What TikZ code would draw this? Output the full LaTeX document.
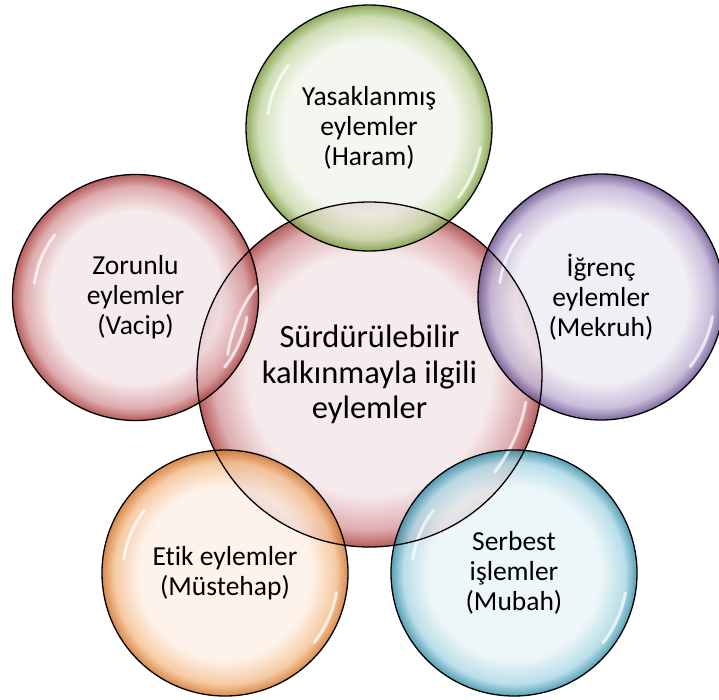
\documentclass[tikz,border=0pt]{standalone}
\usepackage{fontspec}
\setmainfont[Ligatures=NoCommon]{Carlito}
\pgfdeclareradialshading{bubred}{\pgfpoint{0bp}{0bp}}{rgb(0bp)=(0.961,0.906,0.914); rgb(17.5bp)=(0.961,0.906,0.914); rgb(22.5bp)=(0.85,0.62,0.63); rgb(25bp)=(0.66,0.25,0.25); rgb(50bp)=(0.66,0.25,0.25)}
\pgfdeclareradialshading{bubgreen}{\pgfpoint{0bp}{0bp}}{rgb(0bp)=(0.949,0.965,0.925); rgb(17.5bp)=(0.949,0.965,0.925); rgb(22.5bp)=(0.78,0.85,0.66); rgb(25bp)=(0.48,0.61,0.26); rgb(50bp)=(0.48,0.61,0.26)}
\pgfdeclareradialshading{bubpurple}{\pgfpoint{0bp}{0bp}}{rgb(0bp)=(0.937,0.925,0.957); rgb(17.5bp)=(0.937,0.925,0.957); rgb(22.5bp)=(0.75,0.70,0.83); rgb(25bp)=(0.42,0.32,0.56); rgb(50bp)=(0.42,0.32,0.56)}
\pgfdeclareradialshading{buborange}{\pgfpoint{0bp}{0bp}}{rgb(0bp)=(0.992,0.945,0.906); rgb(17.5bp)=(0.992,0.945,0.906); rgb(22.5bp)=(0.96,0.76,0.58); rgb(25bp)=(0.82,0.46,0.18); rgb(50bp)=(0.82,0.46,0.18)}
\pgfdeclareradialshading{bubblue}{\pgfpoint{0bp}{0bp}}{rgb(0bp)=(0.918,0.957,0.969); rgb(17.5bp)=(0.918,0.957,0.969); rgb(22.5bp)=(0.68,0.85,0.90); rgb(25bp)=(0.22,0.56,0.66); rgb(50bp)=(0.22,0.56,0.66)}
\tikzset{
  bubble/.style={circle, draw=none, inner sep=0pt, align=center, fill opacity=0.85, text opacity=1,
    font=\fontsize{27.5}{30}\selectfont, minimum size=246pt},
  hubbubble/.style={bubble, minimum size=345pt, font=\fontsize{32.5}{35.5}\selectfont},
  rim/.style={draw=black, line width=1.3pt},
  hl/.style={white, line width=3pt, line cap=round, opacity=0.7}
}
\newcommand\bubhl[2]{%
  \draw[hl] ([shift={(142:0.83*#2)}]#1.center) arc[start angle=142,end angle=172,radius=0.83*#2];
  \draw[hl] ([shift={(-10:0.92*#2)}]#1.center) arc[start angle=-10,end angle=-38,radius=0.92*#2];
}
\begin{document}
\begin{tikzpicture}[x=1pt,y=1pt]
\useasboundingbox (0,0) rectangle (719,-700);
\node[hubbubble, shading=bubred] (hub) at (369.5,-374.5) {Sürdürülebilir\\kalkınmayla ilgili\\eylemler};
\node[bubble, shading=bubgreen] (haram) at (369,-128) {Yasaklanmış\\eylemler\\(Haram)};
\node[bubble, shading=bubred] (vacip) at (135.5,-297.5) {Zorunlu\\eylemler\\(Vacip)};
\node[bubble, shading=bubpurple] (mekruh) at (601,-297) {İğrenç\\eylemler\\(Mekruh)};
\node[bubble, shading=buborange] (mustehap) at (225,-573) {Etik eylemler\\(Müstehap)};
\node[bubble, shading=bubblue] (mubah) at (514,-573) {Serbest\\işlemler\\(Mubah)};
\bubhl{hub}{172.5}
\bubhl{haram}{123}
\bubhl{vacip}{123}
\bubhl{mekruh}{123}
\bubhl{mustehap}{123}
\bubhl{mubah}{123}
\draw[rim] (hub.center) circle[radius=172.5];
\foreach \n in {haram,vacip,mekruh,mustehap,mubah}
  \draw[rim] (\n.center) circle[radius=123];
\end{tikzpicture}
\end{document}
